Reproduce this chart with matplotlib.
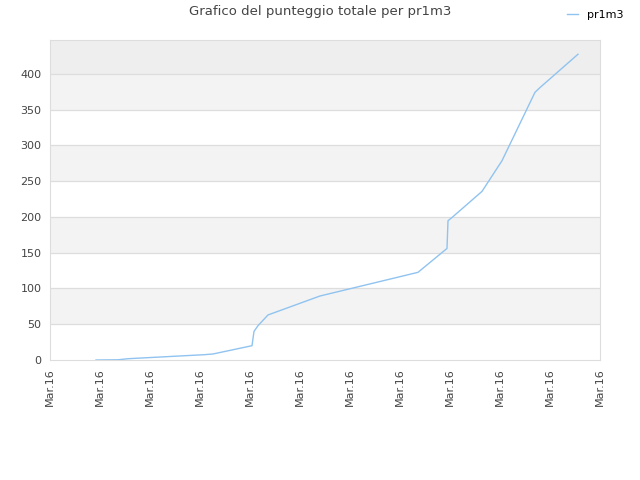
import numpy as np
import matplotlib
matplotlib.use("Agg")
import matplotlib.pyplot as plt

# positions along the time axis, in tick units (one tick per "Mar.16" label)
x_pos = [0.92, 1.36, 1.56, 1.94, 2.32, 2.70, 3.08, 3.26, 4.04, 4.08, 4.16, 4.36,
         5.40, 7.36, 7.94, 7.96, 8.06, 8.64, 9.04, 9.70, 9.80, 10.56]
scores = [0, 0.3, 1.8, 3.2, 4.6, 6, 7.4, 8.4, 20, 40, 48, 63,
          89.5, 122.6, 156, 194.7, 200.5, 235.8, 278.7, 374.4, 381, 427.6]
tick_labels = ["Mar.16"] * 12
y_ticks = [0, 50, 100, 150, 200, 250, 300, 350, 400]

fig = plt.figure(figsize=(6.4, 4.8), dpi=100)
ax = fig.add_axes([50 / 640, 120 / 480, 550 / 640, 320 / 480])

y_top = 447.5
# alternating background bands
for i, lo in enumerate(y_ticks):
    hi = lo + 50
    if lo == 400:
        ax.axhspan(lo, y_top, color="#eeeeee", zorder=0, lw=0)
    elif i % 2 == 1:
        ax.axhspan(lo, hi, color="#f3f3f3", zorder=0, lw=0)
for yv in y_ticks[1:]:
    ax.axhline(yv, color="#dddddd", lw=0.9, zorder=1)

ax.plot(x_pos, scores, color="#90c3f0", lw=1.0, label="pr1m3", zorder=3)

ax.set_xlim(0, 11)
ax.set_ylim(0, y_top)
ax.set_xticks(np.arange(len(tick_labels)))
ax.set_xticklabels(tick_labels, rotation=90)
ax.set_yticks(y_ticks)
ax.tick_params(axis="both", length=0, labelsize=8, colors="#444444", pad=6)
for sp in ax.spines.values():
    sp.set_color("#dddddd")

fig.suptitle("Grafico del punteggio totale per pr1m3", fontsize=9.5, color="#444444", y=0.99)
fig.legend(loc="upper right", bbox_to_anchor=(0.99, 1.0), frameon=False,
           fontsize=8, handlelength=1.0, handletextpad=0.8)

fig.savefig("out.png", dpi=100)
